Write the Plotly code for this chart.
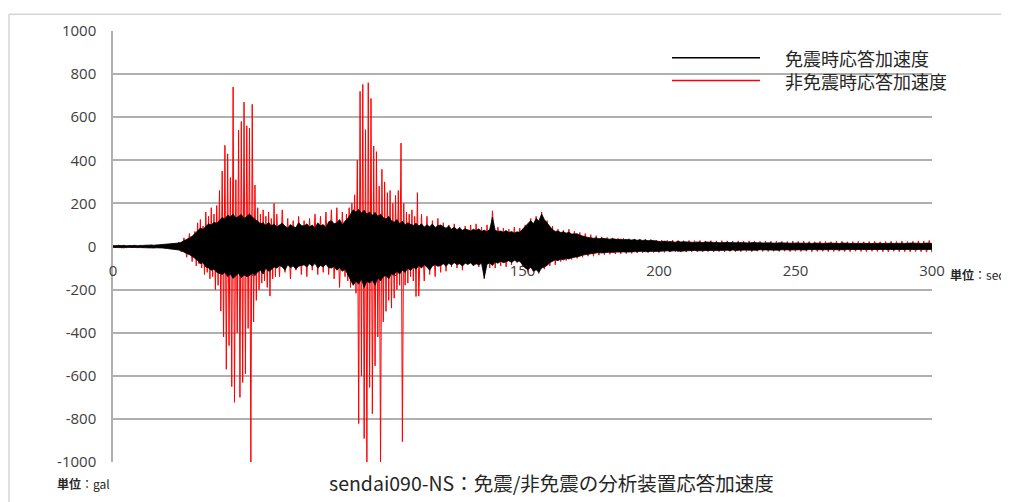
import plotly.graph_objects as go

# ---------------- data ----------------
# time axis for the isolated-response envelope (seconds)
time_sec = list(range(0, 301))

# 免震時応答加速度: upper / lower envelope of the dense black trace (gal)
iso_upper = [
    4, 5, 4, 6, 5, 4, 5, 6, 5, 4,
    5, 6, 5, 6, 7, 6, 7, 8, 7, 8,
    9, 10, 12, 14, 16, 20, 26, 32, 40, 48,
    60, 72, 85, 80, 95, 105, 100, 112, 108, 120,
    135, 128, 145, 138, 150, 132, 140, 148, 130, 142,
    150, 138, 125, 118, 105, 110, 98, 112, 95, 105,
    90, 100, 108, 95, 85, 102, 92, 88, 110, 98,
    95, 105, 90, 100, 85, 110, 95, 102, 88, 115,
    120, 105, 110, 125, 100, 118, 130, 150, 170, 160,
    172, 155, 168, 150, 160, 145, 158, 140, 150, 135,
    128, 140, 120, 112, 125, 105, 118, 100, 110, 103,
    98, 108, 95, 105, 90, 100, 92, 104, 88, 96,
    100, 92, 85, 95, 80, 90, 78, 86, 75, 82,
    78, 72, 80, 74, 82, 70, 76, 68, 80, 136,
    75, 70, 72, 66, 74, 64, 70, 62, 68, 66,
    80, 95, 110, 120, 105, 130, 118, 151, 125, 110,
    90, 78, 70, 72, 65, 68, 62, 66, 58, 60,
    59, 52, 48, 45, 42, 40, 38, 40, 36, 38,
    36, 35, 34, 36, 33, 32, 34, 31, 33, 30,
    30, 32, 29, 31, 28, 30, 27, 29, 28, 26,
    24, 22, 25, 21, 23, 22, 20, 24, 21, 22,
    21, 20, 22, 19, 21, 20, 18, 21, 19, 20,
    19, 18, 20, 17, 19, 18, 17, 19, 18, 17,
    18, 17, 19, 16, 18, 17, 16, 18, 17, 16,
    17, 16, 18, 15, 17, 16, 15, 17, 16, 15,
    16, 15, 17, 16, 15, 16, 14, 16, 15, 14,
    15, 14, 16, 15, 14, 15, 14, 16, 15, 14,
    15, 14, 15, 13, 15, 14, 13, 15, 14, 15,
    14, 15, 13, 14, 15, 14, 16, 14, 15, 14,
    15, 14, 16, 15, 14, 16, 15, 14, 16, 15,
    14,
]
iso_lower = [
    -4, -5, -4, -5, -6, -4, -5, -4, -6, -5,
    -5, -6, -5, -7, -6, -7, -6, -8, -7, -8,
    -9, -10, -11, -13, -16, -20, -25, -30, -38, -45,
    -55, -65, -80, -75, -95, -100, -110, -105, -120, -125,
    -130, -120, -140, -128, -148, -135, -125, -145, -130, -140,
    -135, -125, -130, -118, -110, -128, -100, -115, -108, -95,
    -100, -88, -95, -110, -85, -98, -90, -105, -92, -88,
    -85, -95, -80, -92, -78, -100, -88, -95, -82, -98,
    -100, -92, -110, -98, -115, -105, -130, -150, -180, -160,
    -175, -150, -190, -160, -170, -155, -180, -145, -160, -140,
    -135, -150, -125, -130, -115, -128, -110, -120, -100, -112,
    -95, -105, -88, -100, -85, -95, -110, -90, -84, -92,
    -88, -80, -92, -78, -86, -75, -84, -80, -90, -78,
    -82, -76, -88, -80, -85, -78, -145, -82, -76, -88,
    -72, -78, -68, -75, -70, -66, -74, -64, -70, -68,
    -85, -100, -108, -95, -115, -108, -120, -100, -95, -88,
    -75, -68, -62, -66, -58, -62, -55, -58, -52, -50,
    -48, -45, -40, -38, -35, -33, -32, -30, -28, -30,
    -28, -27, -26, -28, -25, -26, -24, -25, -26, -24,
    -25, -24, -23, -25, -22, -24, -23, -21, -22, -23,
    -22, -21, -23, -20, -22, -21, -19, -22, -20, -21,
    -20, -19, -21, -18, -20, -19, -18, -20, -19, -18,
    -19, -18, -17, -19, -18, -17, -19, -16, -18, -17,
    -17, -18, -16, -17, -18, -16, -17, -15, -17, -16,
    -16, -17, -15, -16, -17, -15, -16, -15, -17, -16,
    -15, -16, -14, -15, -16, -14, -15, -16, -14, -15,
    -15, -14, -16, -15, -14, -15, -16, -14, -15, -14,
    -14, -15, -13, -14, -15, -14, -13, -15, -14, -13,
    -14, -13, -15, -14, -13, -15, -14, -13, -15, -14,
    -15, -14, -13, -15, -14, -16, -15, -14, -16, -15,
    -14,
]

# 非免震時応答加速度: sample times (finer in the two strong-motion bursts) and values (gal)
noniso_time = (list(range(0, 30)) + [30 + 0.5 * i for i in range(60)] + list(range(60, 85))
               + [85 + 0.5 * i for i in range(54)] + list(range(112, 301)))
noniso_acc = [
    # 0-29 s
    4, -5, 6, -4, 5, -6, 4, -5, 6, -5,
    5, -6, 7, -6, 6, -7, 8, -7, 8, -9,
    10, -12, 14, -16, 20, -25, 40, -50, 60, -70,
    # 30-59.5 s
    70, -90, 110, -80, 125, -100, 95, -130, 160, -120,
    140, -150, 180, -140, 150, -200, 190, -180, 260, -300,
    350, -420, 470, -570, 430, -460, 320, -650, 740, -723,
    310, -400, 540, -700, 580, -631, 670, -591, 560, -380,
    550, -1000, 660, -350, 285, -250, 180, -200, 150, -170,
    170, -160, 140, -190, 160, -230, 130, -150, 200, -140,
    # 60-84 s
    150, -140, 170, -120, 130, -150, 120, -110, 140, -130,
    120, -140, 130, -110, 150, -130, 140, -120, 160, -130,
    170, -150, 180, -190, 160,
    # 85-111.5 s
    -140, 150, -160, 180, -190, 200, -170, 240, -217, 400,
    -822, 720, -600, 752, -891, 542, -1000, 760, -654, 687,
    -776, 466, -554, 440, -420, 280, -1000, 358, -350, 300,
    -301, 250, -250, 260, -286, 200, -240, 237, -200, 260,
    -180, 480, -906, 200, -180, 160, -170, 150, -140, 170,
    -160, 140, -232, 250,
    # 112-300 s
    -230, 150, -160, 140, -130, 120, -140, 130,
    -120, 110, -115, 100, -95, 105, -100, 90, -110, 95,
    -85, 100, -90, 105, -95, 90, -150, 100, -100, 166,
    -100, 90, -90, 85, -95, 80, -85, 90, -75, 85,
    -95, 100, -120, 130, -115, 140, -125, 160, -105, 120,
    -90, 95, -85, 80, -70, 75, -65, 80, -60, 70,
    -55, 65, -50, 60, -45, 55, -45, 50, -40, 45,
    -38, 42, -36, 40, -35, 38, -34, 38, -33, 36,
    -32, 35, -30, 34, -30, 33, -29, 32, -28, 30,
    -28, 30, -27, 29, -26, 30, -25, 28, -26, 27,
    -26, 28, -25, 27, -24, 28, -25, 26, -24, 27,
    -25, 26, -24, 27, -25, 26, -23, 25, -24, 26,
    -24, 25, -23, 26, -24, 25, -22, 24, -23, 25,
    -23, 24, -22, 25, -23, 24, -22, 23, -24, 25,
    -22, 24, -23, 25, -22, 23, -24, 22, -23, 24,
    -22, 23, -24, 22, -23, 25, -22, 24, -23, 22,
    -24, 23, -22, 24, -23, 22, -24, 23, -22, 24,
    -23, 22, -24, 23, -25, 24, -22, 23, -24, 25,
    -24, 23, -25, 24, -23, 26, -24, 25, -26, 28,
    -27,
]

x_ticks = [0, 50, 100, 150, 200, 250, 300]
y_ticks = [-1000, -800, -600, -400, -200, 0, 200, 400, 600, 800, 1000]
y_tick_text = ["-1000", "-800", "-600", "-400", "-200", "0", "200", "400", "600", "800", "1000"]

name_iso = "免震時応答加速度"
name_noniso = "非免震時応答加速度"
title_text = "sendai090-NS：免震/非免震の分析装置応答加速度"
unit_y = "<b>単位</b>：gal"
unit_x = "<b>単位</b>：sec"

# ---------------- styling ----------------
FONT = "Noto Sans CJK JP"
TICKFONT = "Open Sans"
GRID = "#b0b0b0"
TEXT = "#262626"

# plot area in page pixels: x 113..932, y 27..462 (page body has an 8px margin)
PX0, PX1, PY0, PY1 = 113, 932, 27, 462


def px(xp):
    return (xp - PX0) / (PX1 - PX0)


def py(yp):
    return 1 - (yp - PY0) / (PY1 - PY0)


fig = go.Figure()
fig.add_trace(go.Scatter(x=noniso_time, y=noniso_acc, mode="lines", name=name_noniso,
                         line=dict(color="#ff0000", width=1), showlegend=False))
fig.add_trace(go.Scatter(x=time_sec, y=iso_upper, mode="lines", name=name_iso,
                         line=dict(color="#000000", width=0.8), showlegend=False))
fig.add_trace(go.Scatter(x=time_sec, y=iso_lower, mode="lines", name=name_iso,
                         line=dict(color="#000000", width=0.8), fill="tonexty",
                         fillcolor="#000000", showlegend=False))

fig.update_layout(
    width=1001, height=494,
    margin=dict(l=105, r=77, t=19, b=40),
    paper_bgcolor="white", plot_bgcolor="white",
    font=dict(family=FONT, color="#404040"),
    showlegend=False,
    xaxis=dict(range=[0, 300], tickvals=x_ticks, showgrid=False, zeroline=False,
               anchor="free", position=0.5, showline=True, linecolor=GRID, linewidth=1,
               ticks="", ticklabelstandoff=10, layer="below traces",
               tickfont=dict(family=TICKFONT, size=15, color="#404040")),
    yaxis=dict(range=[-1000, 1000], tickvals=y_ticks, ticktext=y_tick_text, showgrid=True,
               gridcolor=GRID, gridwidth=1.5, zeroline=False, showline=True, linecolor=GRID,
               linewidth=1.5, ticks="", ticklabelstandoff=12, layer="below traces",
               tickfont=dict(family=TICKFONT, size=15, color="#404040")),
)

# outer frame of the chart object
fig.add_shape(type="rect", xref="paper", yref="paper", x0=px(9), x1=1.3, y0=-0.3, y1=py(10),
              line=dict(color="#c0c0c0", width=1), fillcolor="rgba(0,0,0,0)", layer="below")

# legend (white box hides the gridline behind it)
fig.add_shape(type="rect", xref="paper", yref="paper", x0=px(660), x1=px(934), y0=py(100),
              y1=py(36), line=dict(width=0), fillcolor="white", layer="between")
fig.add_shape(type="line", xref="paper", yref="paper", x0=px(672), x1=px(760), y0=py(54),
              y1=py(54), line=dict(color="#000000", width=1.5))
fig.add_shape(type="line", xref="paper", yref="paper", x0=px(672), x1=px(760), y0=py(77),
              y1=py(77), line=dict(color="#ff0000", width=1.5))
fig.add_annotation(text=name_iso + "<br>" + name_noniso, xref="paper", yref="paper",
                   x=px(783), y=py(65.5), xanchor="left", yanchor="middle", align="left",
                   showarrow=False, font=dict(family=FONT, size=18, color=TEXT))

# title and unit labels
fig.add_annotation(text=title_text, xref="paper", yref="paper", x=px(551), y=py(483),
                   xanchor="center", yanchor="middle", showarrow=False,
                   font=dict(family=FONT, size=19.5, color=TEXT))
fig.add_annotation(text=unit_y, xref="paper", yref="paper", x=px(55), y=py(484),
                   xanchor="left", yanchor="middle", showarrow=False,
                   font=dict(family=FONT, size=12, color=TEXT))
fig.add_annotation(text=unit_x, xref="paper", yref="paper", x=px(948), y=py(273),
                   xanchor="left", yanchor="middle", showarrow=False,
                   font=dict(family=FONT, size=12, color=TEXT))

fig.write_html("out.html")
